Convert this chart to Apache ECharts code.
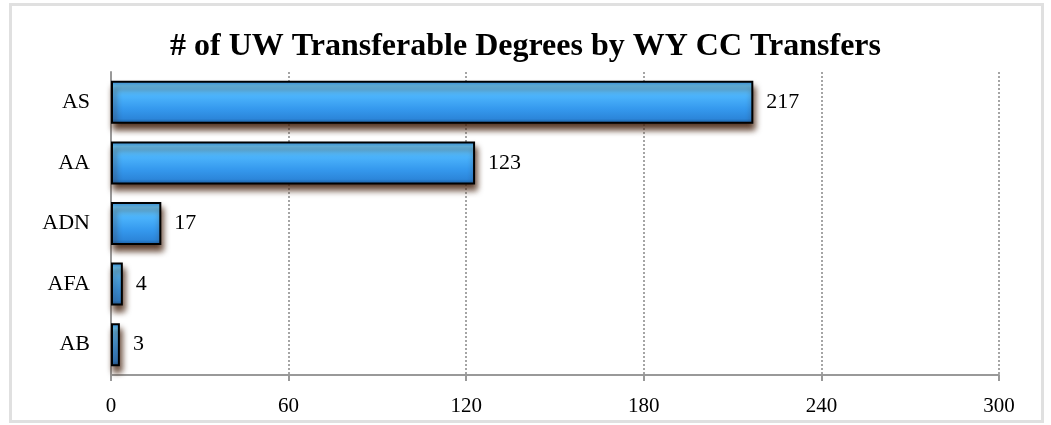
<!DOCTYPE html>
<html><head><meta charset="utf-8">
<script src="https://cdn.jsdelivr.net/npm/echarts@6/dist/echarts.min.js"></script>
<style>
html,body{margin:0;padding:0;background:#fff;}
#frame{position:absolute;left:9px;top:3px;width:1029px;height:414px;border:3px solid #e0e0e0;}
#c{position:absolute;left:0;top:0;width:1051px;height:425px;}
</style></head>
<body><div id="frame"></div><div id="c"></div>
<script>
const categories = ['AS','AA','ADN','AFA','AB'];
const values = [217,123,17,4,3];
const xTicks = [0,60,120,180,240,300];
const titleText = '# of UW Transferable Degrees by WY CC Transfers';

const chart = echarts.init(document.getElementById('c'), null, {renderer:'canvas'});
const serif = '"Liberation Serif", "DejaVu Serif", serif';
chart.setOption({
  backgroundColor:'transparent',
  animation:false,
  title:{text:titleText,left:'center',top:26,textStyle:{fontFamily:serif,fontWeight:'bold',fontSize:32,color:'#000'}},
  grid:{left:111,right:52,top:72,bottom:50,containLabel:false},
  xAxis:{type:'value',min:xTicks[0],max:xTicks[xTicks.length-1],interval:60,
    axisLine:{show:true,lineStyle:{color:'#999',width:2}},
    axisTick:{show:true,length:6,lineStyle:{color:'#999',width:2}},
    axisLabel:{fontFamily:serif,fontSize:21,color:'#000',margin:21},
    splitLine:{show:true,lineStyle:{color:'#888',type:[2,2],width:1.5}}},
  yAxis:{type:'category',data:categories,inverse:true,
    axisLine:{show:true,lineStyle:{color:'#999',width:2}},
    axisTick:{show:false},
    axisLabel:{fontFamily:serif,fontSize:22,color:'#000',margin:21}},
  series:[{type:'bar',data:values,barWidth:43,
    itemStyle:{
      color:new echarts.graphic.LinearGradient(0,0,0,1,[
        {offset:0,color:'#2a84d6'},{offset:0.12,color:'#66caff'},{offset:0.35,color:'#4cb4fc'},
        {offset:0.65,color:'#3599ee'},{offset:0.88,color:'#2c86da'},{offset:1,color:'#1b5c9e'}]),
      borderColor:'#000',borderWidth:2,
      shadowColor:'rgba(70,35,15,0.9)',shadowBlur:6,shadowOffsetX:2,shadowOffsetY:6},
    label:{show:true,position:'right',distance:13,fontFamily:serif,fontSize:22,color:'#000'}
  }]
});
</script></body></html>
